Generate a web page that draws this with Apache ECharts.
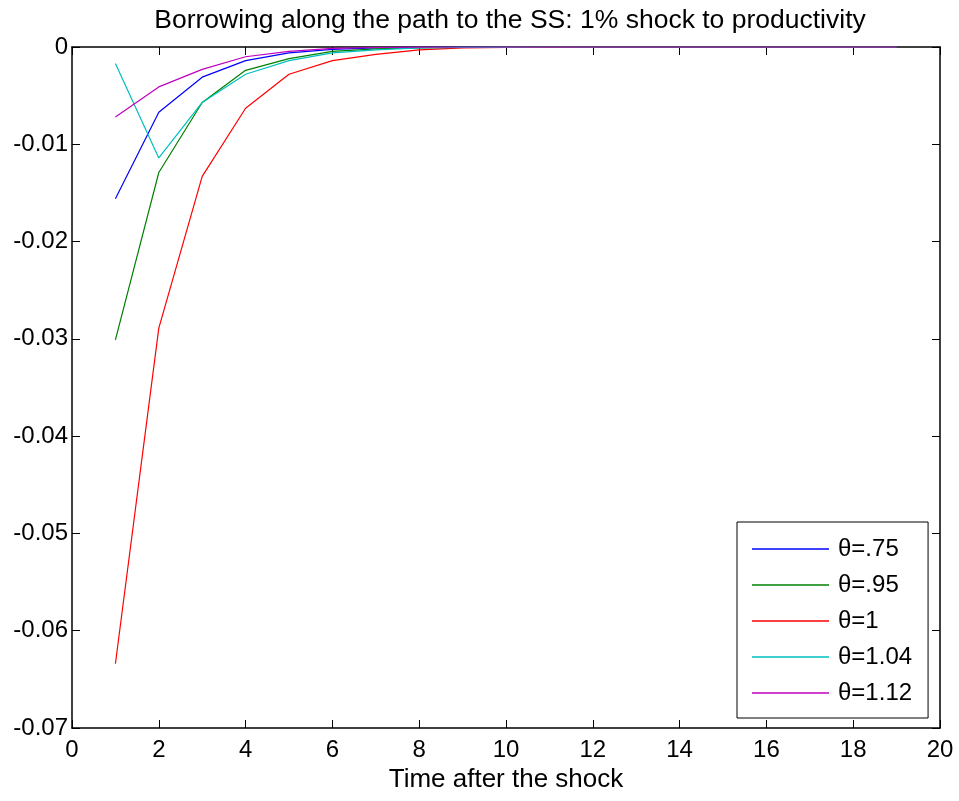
<!DOCTYPE html>
<html>
<head>
<meta charset="utf-8">
<script src="https://cdn.jsdelivr.net/npm/echarts@6/dist/echarts.min.js"></script>
<style>
  html, body { margin: 0; padding: 0; background: #fff; }
  #main { width: 959px; height: 801px; }
</style>
</head>
<body>
<div id="main"></div>
<script>
// periods after the shock
var periods = [1, 2, 3, 4, 5, 6, 7, 8, 9, 10, 11, 12, 13, 14, 15, 16, 17, 18, 19];
var legendNames = ['θ=.75', 'θ=.95', 'θ=1', 'θ=1.04', 'θ=1.12'];
var theta075 = [-0.0156, -0.0067, -0.0031, -0.0014, -0.0006, -0.00024, -0.0001, -0.00004, -0.00002, 0, 0, 0, 0, 0, 0, 0, 0, 0, 0];
var theta095 = [-0.0301, -0.0129, -0.0057, -0.0024, -0.0012, -0.00045, -0.0002, -0.00008, -0.00003, -0.00001, 0, 0, 0, 0, 0, 0, 0, 0, 0];
var theta100 = [-0.0634, -0.0289, -0.0133, -0.0063, -0.0028, -0.0014, -0.00075, -0.0003, -0.0001, -0.00004, -0.00002, 0, 0, 0, 0, 0, 0, 0, 0];
var theta104 = [-0.0017, -0.0114, -0.0057, -0.0028, -0.0014, -0.0006, -0.0003, -0.0001, -0.00004, -0.00002, 0, 0, 0, 0, 0, 0, 0, 0, 0];
var theta112 = [-0.0072, -0.0041, -0.0023, -0.001, -0.00045, -0.00014, -0.00005, -0.00002, 0, 0, 0, 0, 0, 0, 0, 0, 0, 0, 0];
var colors = ['#0000ff', '#008000', '#ff0000', '#00bfbf', '#bf00bf'];

function pairs(vals) {
    var out = [];
    for (var i = 0; i < periods.length; i++) {
        out.push([periods[i], vals[i]]);
    }
    return out;
}

var font = 'Liberation Sans, Arial, Helvetica, sans-serif';
var axisLine = {show: true, onZero: false, lineStyle: {color: '#000', width: 1.5}};
var tickIn = {show: true, inside: true, length: 8, lineStyle: {color: '#000', width: 1}};

var chart = echarts.init(document.getElementById('main'));
var allData = [theta075, theta095, theta100, theta104, theta112];
var series = [];
for (var k = 0; k < allData.length; k++) {
    series.push({
        name: legendNames[k],
        type: 'line',
        data: pairs(allData[k]),
        symbol: 'none',
        lineStyle: {color: colors[k], width: 1.2},
        itemStyle: {color: colors[k]}
    });
}

chart.setOption({
    animation: false,
    backgroundColor: '#fff',
    color: colors,
    title: {
        text: 'Borrowing along the path to the SS: 1% shock to productivity',
        left: 505,
        top: 2,
        textAlign: 'center',
        textStyle: {fontFamily: font, fontSize: 26.5, fontWeight: 'normal', color: '#000'}
    },
    grid: {left: 72, right: 19, top: 47, bottom: 73},
    legend: {
        orient: 'vertical',
        left: 737,
        top: 522,
        padding: [15, 16, 13, 15],
        itemGap: 12,
        itemWidth: 77,
        itemHeight: 1.5,
        icon: 'rect',
        borderColor: '#000',
        borderWidth: 1,
        backgroundColor: '#fff',
        textStyle: {fontFamily: font, fontSize: 24, color: '#000', padding: [0, 0, 0, 4]},
        data: legendNames
    },
    xAxis: [{
        type: 'value',
        min: 0,
        max: 20,
        interval: 2,
        name: 'Time after the shock',
        nameLocation: 'middle',
        nameGap: 36,
        nameTextStyle: {fontFamily: font, fontSize: 26, color: '#000'},
        axisLine: axisLine,
        axisTick: tickIn,
        axisLabel: {fontFamily: font, fontSize: 24, color: '#000', margin: 10},
        splitLine: {show: false}
    }, {
        type: 'value',
        position: 'top',
        min: 0,
        max: 20,
        interval: 2,
        axisLine: axisLine,
        axisTick: tickIn,
        axisLabel: {show: false},
        splitLine: {show: false}
    }],
    yAxis: [{
        type: 'value',
        min: -0.07,
        max: 0,
        interval: 0.01,
        axisLine: axisLine,
        axisTick: tickIn,
        axisLabel: {
            fontFamily: font, fontSize: 24, color: '#000', margin: 4,
            formatter: function (v) { return Math.abs(v) < 1e-9 ? '0' : v.toFixed(2); }
        },
        splitLine: {show: false}
    }, {
        type: 'value',
        position: 'right',
        min: -0.07,
        max: 0,
        interval: 0.01,
        axisLine: axisLine,
        axisTick: tickIn,
        axisLabel: {show: false},
        splitLine: {show: false}
    }],
    series: series
});
</script>
</body>
</html>
